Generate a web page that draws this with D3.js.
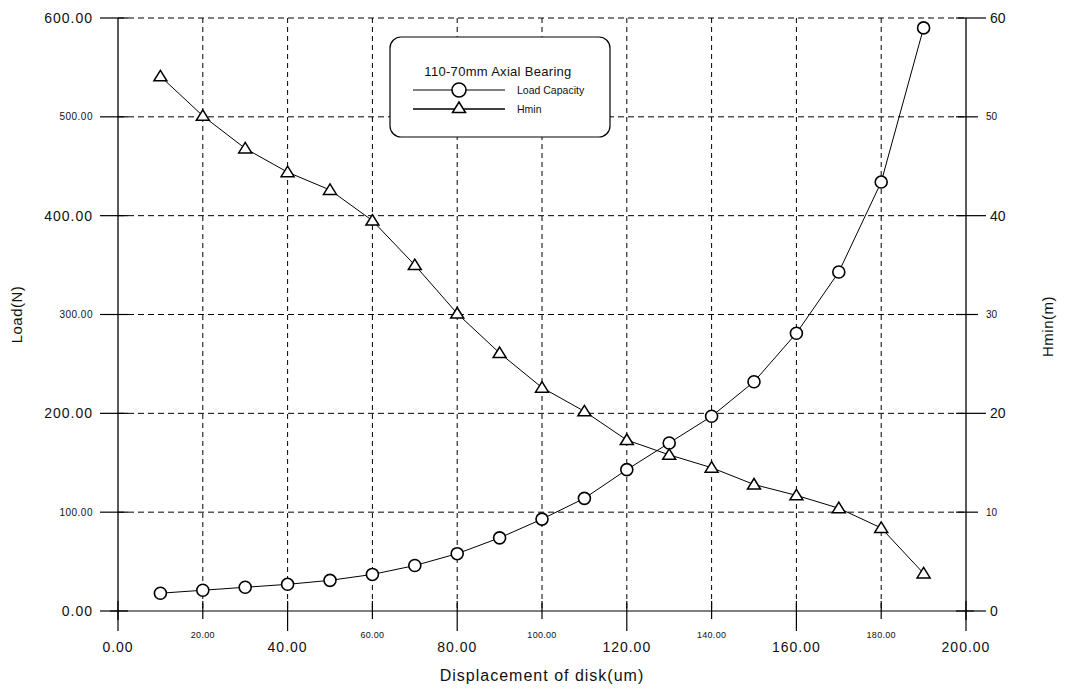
<!DOCTYPE html>
<html>
<head>
<meta charset="utf-8">
<script src="https://d3js.org/d3.v7.min.js"></script>
<style>
  body { margin: 0; background: #fff; }
  text { font-family: "Liberation Sans", Arial, sans-serif; fill: #111; }
</style>
</head>
<body>
<div id="my_dataviz"></div>
<script>

// displacement of disk (um)
var disp = [10, 20, 30, 40, 50, 60, 70, 80, 90, 100, 110, 120, 130, 140, 150, 160, 170, 180, 190];
// load capacity (N), left axis
var load = [18, 21, 24, 27, 31, 37, 46, 58, 74, 93, 114, 143, 170, 197, 232, 281, 343, 434, 590];
// minimum film thickness, right axis
var hmin = [54.1, 50.1, 46.8, 44.4, 42.6, 39.5, 35.0, 30.1, 26.1, 22.6, 20.2, 17.3, 15.8, 14.5, 12.8, 11.7, 10.4, 8.4, 3.8];

var xTicks = [0, 20, 40, 60, 80, 100, 120, 140, 160, 180, 200];
var yTicks = [0, 100, 200, 300, 400, 500, 600];
var y2Ticks = [0, 10, 20, 30, 40, 50, 60];

var margin = {top: 18, right: 106, bottom: 83, left: 118},
    width = 1072 - margin.left - margin.right,
    height = 694 - margin.top - margin.bottom;

var svg = d3.select("#my_dataviz")
  .append("svg")
    .attr("width", 1072)
    .attr("height", 694)
  .append("g")
    .attr("transform", "translate(" + margin.left + "," + margin.top + ")");

var x = d3.scaleLinear().domain([0, 200]).range([0, width]);
var y = d3.scaleLinear().domain([0, 600]).range([height, 0]);
var y2 = d3.scaleLinear().domain([0, 60]).range([height, 0]);

// dashed grid
svg.append("g").selectAll("line")
  .data(xTicks.slice(1, -1))
  .enter().append("line")
    .attr("x1", function(d) { return x(d); })
    .attr("x2", function(d) { return x(d); })
    .attr("y1", 0).attr("y2", height)
    .attr("stroke", "#000").attr("stroke-width", 1)
    .attr("stroke-dasharray", "5,4");

svg.append("g").selectAll("line")
  .data(yTicks.slice(1))
  .enter().append("line")
    .attr("x1", 0).attr("x2", width)
    .attr("y1", function(d) { return y(d); })
    .attr("y2", function(d) { return y(d); })
    .attr("stroke", "#000").attr("stroke-width", 1)
    .attr("stroke-dasharray", "6,4");

// axis lines
svg.append("line").attr("x1", 0).attr("x2", 0).attr("y1", 0).attr("y2", height + 9)
  .attr("stroke", "#000").attr("stroke-width", 1.3);
svg.append("line").attr("x1", width).attr("x2", width).attr("y1", 0).attr("y2", height + 9)
  .attr("stroke", "#000").attr("stroke-width", 1.3);
svg.append("line").attr("x1", -8).attr("x2", width + 8).attr("y1", height).attr("y2", height)
  .attr("stroke", "#000").attr("stroke-width", 1.2);

// left ticks + labels
var gl = svg.append("g");
yTicks.forEach(function(v) {
  var big = v % 200 === 0;
  gl.append("line").attr("x1", -18).attr("x2", 10)
    .attr("y1", y(v)).attr("y2", y(v)).attr("stroke", "#000").attr("stroke-width", 1.2);
  gl.append("text")
    .attr("x", -25).attr("y", y(v))
    .attr("dy", "0.35em")
    .attr("text-anchor", "end")
    .style("font-size", big ? "14px" : "10px")
    .style("letter-spacing", big ? "1px" : "0.5px")
    .text(v.toFixed(2));
});

// right ticks + labels
var gr = svg.append("g");
y2Ticks.forEach(function(v) {
  var big = v % 20 === 0;
  gr.append("line").attr("x1", width - 10).attr("x2", width + (big ? 20 : 12))
    .attr("y1", y2(v)).attr("y2", y2(v)).attr("stroke", "#000").attr("stroke-width", 1.2);
  gr.append("text")
    .attr("x", width + (big ? 24 : 20)).attr("y", y2(v))
    .attr("dy", "0.35em")
    .style("font-size", big ? "14px" : "10px")
    .text(v);
});

// bottom ticks + labels
var gb = svg.append("g");
xTicks.forEach(function(v) {
  var big = v % 40 === 0;
  gb.append("line").attr("x1", x(v)).attr("x2", x(v))
    .attr("y1", height - 10).attr("y2", height + (big ? 20 : 8))
    .attr("stroke", "#000").attr("stroke-width", 1.2);
  gb.append("text")
    .attr("x", x(v)).attr("y", height + (big ? 41 : 27))
    .attr("text-anchor", "middle")
    .style("font-size", big ? "14px" : "9px")
    .style("letter-spacing", big ? "1px" : "0.3px")
    .text(v.toFixed(2));
});

// axis titles
svg.append("text")
  .attr("transform", "translate(" + (-96) + "," + (height / 2) + ") rotate(-90)")
  .attr("text-anchor", "middle")
  .style("font-size", "15px")
  .style("letter-spacing", "0.5px")
  .text("Load(N)");

svg.append("text")
  .attr("transform", "translate(" + (width + 87) + "," + (height / 2 + 12) + ") rotate(-90)")
  .attr("text-anchor", "middle")
  .style("font-size", "15px")
  .style("letter-spacing", "0.5px")
  .text("Hmin(m)");

svg.append("text")
  .attr("x", x(100)).attr("y", height + 70)
  .attr("text-anchor", "middle")
  .style("font-size", "16px")
  .style("letter-spacing", "1px")
  .text("Displacement of disk(um)");

// series lines
var loadLine = d3.line()
  .x(function(d, i) { return x(disp[i]); })
  .y(function(d) { return y(d); });
var hminLine = d3.line()
  .x(function(d, i) { return x(disp[i]); })
  .y(function(d) { return y2(d); });

svg.append("path").datum(load)
  .attr("d", loadLine).attr("fill", "none").attr("stroke", "#000").attr("stroke-width", 1);
svg.append("path").datum(hmin)
  .attr("d", hminLine).attr("fill", "none").attr("stroke", "#000").attr("stroke-width", 1);

var tri = "M0,-6L6.5,4.5L-6.5,4.5Z";

svg.append("g").selectAll("circle")
  .data(load).enter()
  .append("circle")
    .attr("cx", function(d, i) { return x(disp[i]); })
    .attr("cy", function(d) { return y(d); })
    .attr("r", 6)
    .attr("fill", "#fff").attr("stroke", "#000").attr("stroke-width", 1.6);

svg.append("g").selectAll("path")
  .data(hmin).enter()
  .append("path")
    .attr("d", tri)
    .attr("transform", function(d, i) { return "translate(" + x(disp[i]) + "," + y2(d) + ")"; })
    .attr("fill", "#fff").attr("stroke", "#000").attr("stroke-width", 1.5);

// legend
var lg = svg.append("g").attr("transform", "translate(" + (390 - margin.left) + "," + (37 - margin.top) + ")");
lg.append("rect").attr("width", 220).attr("height", 100).attr("rx", 11)
  .attr("fill", "#fff").attr("stroke", "#000").attr("stroke-width", 1.2);
lg.append("text").attr("x", 108).attr("y", 39).attr("text-anchor", "middle")
  .style("font-size", "13px").style("letter-spacing", "0.3px")
  .text("110-70mm Axial Bearing");
lg.append("line").attr("x1", 23).attr("x2", 115).attr("y1", 53).attr("y2", 53)
  .attr("stroke", "#000").attr("stroke-width", 1);
lg.append("circle").attr("cx", 69).attr("cy", 53).attr("r", 7)
  .attr("fill", "#fff").attr("stroke", "#000").attr("stroke-width", 1.6);
lg.append("text").attr("x", 127).attr("y", 57).style("font-size", "10.5px").text("Load Capacity");
lg.append("line").attr("x1", 23).attr("x2", 115).attr("y1", 72).attr("y2", 72)
  .attr("stroke", "#000").attr("stroke-width", 1.3);
lg.append("path").attr("d", tri).attr("transform", "translate(69,71)")
  .attr("fill", "#fff").attr("stroke", "#000").attr("stroke-width", 1.5);
lg.append("text").attr("x", 127).attr("y", 76).style("font-size", "10.5px").text("Hmin");

</script>
</body>
</html>
